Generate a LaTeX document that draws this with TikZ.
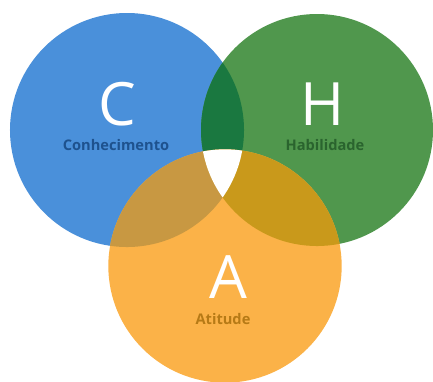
\documentclass[tikz,border=0pt]{standalone}
\usepackage{fontspec}
\setmainfont{Open Sans}
\usetikzlibrary{positioning}
\definecolor{cblue}{RGB}{74, 144, 218}
\definecolor{cgreen}{RGB}{80, 151, 77}
\definecolor{corange}{RGB}{251, 178, 72}
\definecolor{bluegreen}{RGB}{26, 120, 64}
\definecolor{blueorange}{RGB}{200, 152, 66}
\definecolor{greenorange}{RGB}{201, 153, 27}
\definecolor{cbluetext}{RGB}{30, 82, 142}
\definecolor{cgreentext}{RGB}{42, 100, 46}
\definecolor{corangetext}{RGB}{182, 122, 22}

\begin{document}
\begin{tikzpicture}[x=0.03cm, y=-0.03cm,
    letter/.style={text=white, font=\fontsize{51}{51}\selectfont, inner sep=0pt},
    caption/.style={font=\bfseries\fontsize{12.5}{15}\selectfont, inner sep=0pt}]
            % Frame to fix the margins
            \useasboundingbox                                      (0, 0) rectangle (433, 381);
            % Circles
            \fill[cblue]                                          (127, 130) circle (3.51cm);
            \fill[cgreen]                                         (317, 130) circle (3.48cm);
            \fill[corange]                                        (225, 266) circle (3.50cm);
            % Pairwise overlaps
            \begin{scope}
                \clip                                             (127, 130) circle (3.51cm);
                \fill[bluegreen]                                  (317, 130) circle (3.48cm);
                \fill[blueorange]                                 (225, 266) circle (3.50cm);
            \end{scope}
            \begin{scope}
                \clip                                             (317, 130) circle (3.48cm);
                \fill[greenorange]                                (225, 266) circle (3.50cm);
            \end{scope}
            % Centre of all three
            \begin{scope}
                \clip                                             (127, 130) circle (3.51cm);
                \clip                                             (317, 130) circle (3.48cm);
                \fill[white]                                      (225, 266) circle (3.50cm);
            \end{scope}
            % Letters & captions
            \node[letter]                          (C)      at (117, 104) {C};
            \node[caption, text=cbluetext]         (Ctext)  at (116, 145) {Conhecimento};
            \node[letter]                          (H)      at (323, 104) {H};
            \node[caption, text=cgreentext]        (Htext)  at (325, 145) {Habilidade};
            \node[letter]                          (A)      at (228, 277) {A};
            \node[caption, text=corangetext]       (Atext)  at (223, 319) {Atitude};
        \end{tikzpicture}
\end{document}
